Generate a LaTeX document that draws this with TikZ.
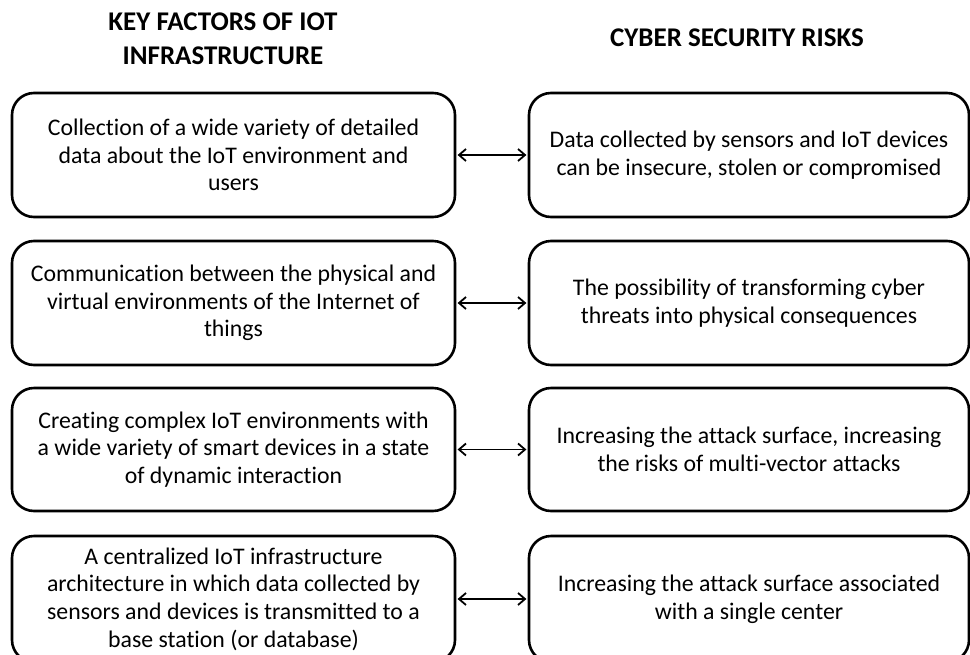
\documentclass[tikz,border=0pt]{standalone}
\usepackage{fontspec}
\setmainfont[Ligatures=NoCommon]{Carlito}
\usetikzlibrary{arrows.meta}
\begin{document}
\begin{tikzpicture}[x=1pt,y=-1pt,
  box/.style={draw, line width=2.6pt, rounded corners=22pt, inner sep=0pt,
    align=center, font=\fontsize{23.8}{27.6}\selectfont},
  lbox/.style={box, minimum width=443pt},
  rbox/.style={box, minimum width=440pt},
  hdr/.style={align=center, font=\fontsize{27}{34}\selectfont\bfseries},
  link/.style={line width=1.8pt, {Straight Barb[length=7pt,width=12pt]}-{Straight Barb[length=7pt,width=12pt]}, shorten <=1.3pt, shorten >=1.3pt}]
\useasboundingbox (0,0) rectangle (970,654);
\node[hdr] (h1) at (223,38.5) {KEY FACTORS OF IOT\\INFRASTRUCTURE};
\node[hdr, anchor=base] (h2) at (737,46.7) {CYBER SECURITY RISKS};

\node[lbox, minimum height=124pt] (l1) at (233.5,155) {Collection of a wide variety of detailed\\data about the IoT environment  and\\users};
\node[lbox, minimum height=124pt] (l2) at (233.5,303) {Communication between the physical and\\virtual environments  of the Internet of\\things};
\node[lbox, minimum height=123pt] (l3) at (233.5,449.5) {Creating complex IoT environments  with\\a wide variety of smart devices in a state\\of dynamic interaction};
\node[lbox, minimum height=126pt] (l4) at (233.5,599) {A centralized IoT infrastructure\\architecture in which data collected by\\sensors and devices is transmitted to a\\base station (or database)};

\node[rbox, minimum height=124pt] (r1) at (749,155) {Data collected by sensors and IoT devices\\can be insecure, stolen or compromised};
\node[rbox, minimum height=124pt] (r2) at (749,303) {The possibility of transforming cyber\\threats into physical consequences};
\node[rbox, minimum height=123pt] (r3) at (749,449.5) {Increasing the attack surface, increasing\\the risks of multi-vector attacks};
\node[rbox, minimum height=126pt] (r4) at (749,599) {Increasing the attack surface associated\\with a single center};

\draw[link] (l1.east) -- (r1.west);
\draw[link] (l2.east) -- (r2.west);
\draw[link] (l3.east) -- (r3.west);
\draw[link] (l4.east) -- (r4.west);
\end{tikzpicture}
\end{document}
